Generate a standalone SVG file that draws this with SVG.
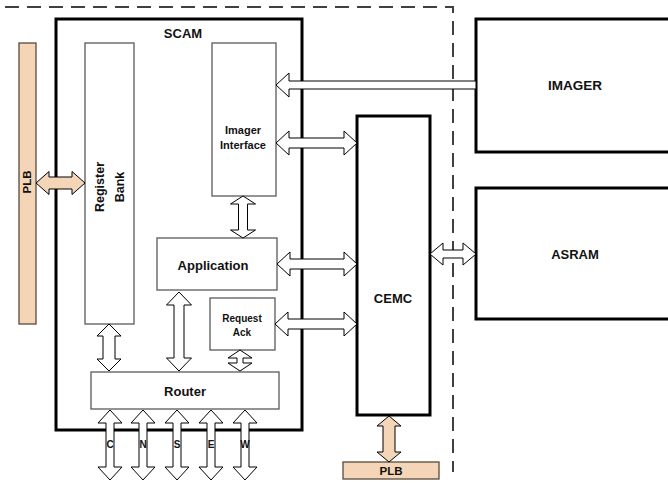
<svg xmlns="http://www.w3.org/2000/svg" width="668" height="483" viewBox="0 0 668 483">
<style>
text{font-family:"Liberation Sans",Arial,sans-serif;font-weight:bold;fill:#111;text-anchor:middle;dominant-baseline:central}
.thick{fill:#fff;stroke:#000;stroke-width:3}
.thin{fill:#fff;stroke:#595959;stroke-width:1.3}
.plb{fill:#F4D5B7;stroke:#5a4a3a;stroke-width:1.3}
.arr{fill:#fff;stroke:#000;stroke-width:1}
.oarr{fill:#F4D5B7;stroke:#000;stroke-width:1}
</style>
<rect width="668" height="483" fill="#fff"/>
<path d="M5 7 H453 V472" fill="none" stroke="#404040" stroke-width="2" stroke-dasharray="14 8"/>

<g id="scam"><rect class="thick" x="56" y="19" width="246" height="411"/><text x="183" y="33" font-size="13">SCAM</text></g>
<g id="imager"><rect class="thick" x="476" y="19" width="200" height="133"/><text x="575" y="85" font-size="13.5">IMAGER</text></g>
<g id="asram"><rect class="thick" x="476" y="188" width="200" height="131"/><text x="575" y="254" font-size="13">ASRAM</text></g>
<g id="cemc"><rect class="thick" x="357" y="116" width="73" height="299"/><text x="393" y="298" font-size="13">CEMC</text></g>
<g id="plb-left"><rect class="plb" x="19" y="43" width="17" height="281"/><text x="27" y="182" font-size="11.5" transform="rotate(-90 27 182)">PLB</text></g>
<g id="plb-bottom"><rect class="plb" x="343" y="462" width="96" height="17"/><text x="391" y="471" font-size="11.5">PLB</text></g>
<g id="register-bank"><rect class="thin" x="85" y="43" width="49" height="281"/><text x="100" y="187" font-size="12.5" transform="rotate(-90 100 187)">Register</text><text x="120" y="187" font-size="12.5" transform="rotate(-90 120 187)">Bank</text></g>
<g id="imager-interface"><rect class="thin" x="212" y="43" width="64" height="153"/><text x="243" y="130" font-size="11">Imager</text><text x="243" y="145" font-size="11">Interface</text></g>
<g id="application"><rect class="thin" x="157" y="238" width="120" height="52"/><text x="213" y="265" font-size="13">Application</text></g>
<g id="request-ack"><rect class="thin" x="210" y="298" width="65" height="52"/><text x="242" y="318" font-size="10">Request</text><text x="242" y="332" font-size="10">Ack</text></g>
<g id="router"><rect class="thin" x="91" y="372" width="188" height="37"/><text x="185" y="391" font-size="13">Router</text></g>

<g id="connectors">
<polygon class="oarr" points="36,183 49,171.5 49,177 72,177 72,171.5 85,183 72,194.5 72,189 49,189 49,194.5"/>
<polygon class="arr" points="276,85 289,73 289,81 476,81 476,89 289,89 289,97"/>
<polygon class="arr" points="276,143 289,131 289,138 344,138 344,131 357,143 344,155 344,148 289,148 289,155"/>
<polygon class="arr" points="277,264 290,252 290,259 344,259 344,252 357,264 344,276 344,269 290,269 290,276"/>
<polygon class="arr" points="275,324 288,312 288,319 344,319 344,312 357,324 344,336 344,329 288,329 288,336"/>
<polygon class="arr" points="430,254 443,243 443,250 463,250 463,243 476,254 463,265 463,258 443,258 443,265"/>
<polygon class="arr" points="243,196 255.5,204 247.5,204 247.5,230 255.5,230 243,238 230.5,230 238.5,230 238.5,204 230.5,204"/>
<polygon class="arr" points="109,324 121,336 115,336 115,359 121,359 109,371 97,359 103,359 103,336 97,336"/>
<polygon class="arr" points="179,292 191.5,305 184,305 184,358 191.5,358 179,371 166.5,358 174,358 174,305 166.5,305"/>
<polygon class="arr" points="240,350 252,358 243,358 243,363 252,363 240,371 228,363 237,363 237,358 228,358"/>
<polygon class="oarr" points="389,416 401,426 395,426 395,452 401,452 389,462 377,452 383,452 383,426 377,426"/>
<polygon class="arr" points="110,410 122,423 114,423 114,467 122,467 110,480 98,467 106,467 106,423 98,423"/>
<polygon class="arr" points="143,410 155,423 147,423 147,467 155,467 143,480 131,467 139,467 139,423 131,423"/>
<polygon class="arr" points="177,410 189,423 181,423 181,467 189,467 177,480 165,467 173,467 173,423 165,423"/>
<polygon class="arr" points="211,410 223,423 215,423 215,467 223,467 211,480 199,467 207,467 207,423 199,423"/>
<polygon class="arr" points="245,410 257,423 249,423 249,467 257,467 245,480 233,467 241,467 241,423 233,423"/>
<text x="110" y="444" font-size="10">C</text>
<text x="143" y="444" font-size="10">N</text>
<text x="177" y="444" font-size="10">S</text>
<text x="211" y="444" font-size="10">E</text>
<text x="245" y="444" font-size="10">W</text>
</g>
</svg>
